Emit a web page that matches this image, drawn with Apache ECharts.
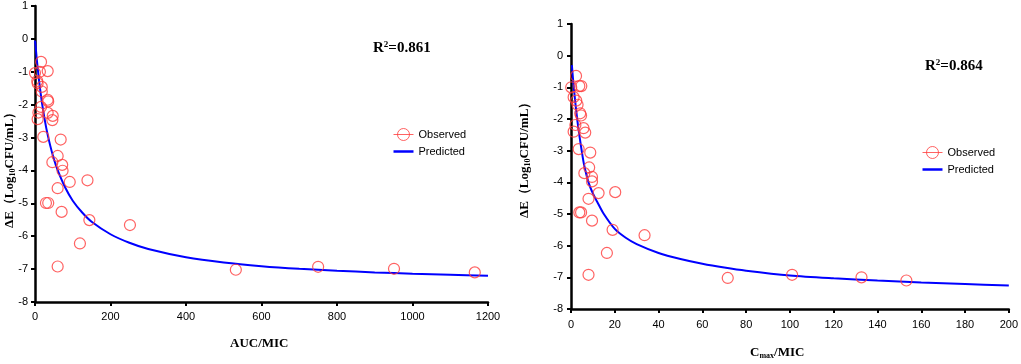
<!DOCTYPE html>
<html>
<head>
<meta charset="utf-8">
<script src="https://cdn.jsdelivr.net/npm/echarts@6/dist/echarts.min.js"></script>
<style>
  html, body { margin: 0; padding: 0; background: #fff; }
  #main { width: 1021px; height: 364px; }
</style>
</head>
<body>
<div id="main"></div>
<script>
// observed points, AUC/MIC panel
const aucMic = [16, 13, 33.6, 0, 6, 7, 18, 18, 33.6, 35, 16, 9, 33.6, 47, 46, 7, 22, 68, 60, 46, 72, 73, 92, 139, 60, 29, 35, 70.5, 144, 251.5, 119, 60, 532, 750, 951, 1165]
const aucDeltaE = [-0.7, -1.0, -0.98, -1.04, -1.28, -1.35, -1.46, -1.6, -1.85, -1.9, -2.07, -2.24, -2.25, -2.34, -2.47, -2.44, -2.98, -3.06, -3.56, -3.75, -3.83, -4.01, -4.35, -4.3, -4.54, -4.99, -4.99, -5.26, -5.51, -5.66, -6.22, -6.92, -7.02, -6.93, -6.99, -7.1]
// predicted curve, AUC/MIC panel
const aucCurveX = [0, 2, 5, 10, 15, 20, 30, 40, 50, 60, 80, 100, 125, 150, 200, 250, 300, 400, 500, 600, 700, 800, 900, 1000, 1100, 1200]
const aucCurveY = [-0.05, -0.27, -0.65, -1.19, -1.66, -2.06, -2.72, -3.23, -3.65, -3.99, -4.52, -4.92, -5.28, -5.56, -5.94, -6.2, -6.39, -6.64, -6.8, -6.91, -6.99, -7.05, -7.1, -7.14, -7.17, -7.2]

// observed points, Cmax/MIC panel
const cmaxMic = [2.3, 0.1, 3.8, 4.7, 1.2, 2.4, 3, 4.6, 4.2, 2, 1.2, 5.7, 6.5, 3.5, 8.8, 8.3, 6.1, 9.6, 9.6, 12.6, 20.2, 8, 3.8, 4.6, 9.6, 19, 33.6, 16.4, 8, 71.6, 101, 132.7, 153.2]
const cmaxDeltaE = [-0.64, -1.0, -0.96, -0.96, -1.31, -1.42, -1.55, -1.89, -1.82, -2.19, -2.4, -2.29, -2.43, -2.95, -3.06, -3.53, -3.71, -3.83, -3.97, -4.34, -4.31, -4.52, -4.95, -4.95, -5.21, -5.5, -5.67, -6.23, -6.92, -7.02, -6.92, -7.0, -7.1]
// predicted curve, Cmax/MIC panel
const cmaxCurveX = [0.4, 1, 2, 3, 4, 5, 6, 8, 10, 12, 15, 20, 25, 30, 40, 50, 60, 70, 80, 100, 120, 140, 160, 180, 200]
const cmaxCurveY = [-0.3, -0.8, -1.5, -2.1, -2.6, -3.05, -3.45, -4.0, -4.35, -4.62, -5.0, -5.47, -5.75, -5.95, -6.23, -6.42, -6.57, -6.69, -6.79, -6.94, -7.03, -7.1, -7.16, -7.21, -7.26]

const yTicks = { min: -8, max: 1, interval: 1 }
const r2Left = '0.861'
const r2Right = '0.864'

const pairs = (xs, ys) => xs.map((x, i) => [x, ys[i]])

const RED = '#ff3b3b'
const BLUE = '#0000ff'
const sans = 'Liberation Sans, Arial, sans-serif'
const serif = 'Liberation Serif, Times New Roman, serif'

function xAxis (gridIndex, max, interval, margin) {
  return {
    type: 'value', gridIndex, min: 0, max, interval,
    axisLine: { onZero: false, lineStyle: { color: '#000', width: 2.5 } },
    axisTick: { length: 4, lineStyle: { color: '#000', width: 2 } },
    axisLabel: { color: '#000', fontSize: 11, fontFamily: sans, margin, formatter: v => String(v) },
    splitLine: { show: false }
  }
}
function yAxis (gridIndex, margin) {
  return {
    type: 'value', gridIndex, min: yTicks.min, max: yTicks.max, interval: yTicks.interval,
    axisLine: { show: true, onZero: false, lineStyle: { color: '#000', width: 2.5 } },
    axisTick: { show: true, length: 4, lineStyle: { color: '#000', width: 2 } },
    axisLabel: { color: '#000', fontSize: 11, fontFamily: sans, margin },
    splitLine: { show: false }
  }
}

const observedIcon = 'path://M0,10 L20,10 M16,10 A6,6 0 1 1 4,10 A6,6 0 1 1 16,10'
const predictedIcon = 'path://M0,0 L20,0 L20,2.5 L0,2.5 Z'

function legend (left, top) {
  return {
    left, top, orient: 'vertical', itemGap: 5, itemWidth: 20, itemHeight: 12,
    textStyle: { fontSize: 11, fontFamily: sans, color: '#000' },
    data: [
      { name: 'Observed', icon: observedIcon, itemStyle: { color: 'transparent', borderColor: RED, borderWidth: 1 } },
      { name: 'Predicted', icon: predictedIcon, itemStyle: { color: BLUE, borderWidth: 0 } }
    ]
  }
}

const titleRich = {
  b: { fontFamily: serif, fontWeight: 'bold', fontSize: 13, color: '#000' },
  s: { fontFamily: serif, fontWeight: 'bold', fontSize: 8, color: '#000', verticalAlign: 'bottom', padding: [6, 0, 0, 0] }
}
const r2Rich = {
  b: { fontFamily: serif, fontWeight: 'bold', fontSize: 15, color: '#000' },
  p: { fontFamily: serif, fontWeight: 'bold', fontSize: 9, color: '#000', verticalAlign: 'top', padding: [0, 0, 7, 0] }
}

const observedStyle = { color: 'transparent', borderColor: RED, borderWidth: 1.2 }

const chart = echarts.init(document.getElementById('main'))
chart.setOption({
  animation: false,
  backgroundColor: '#fff',
  grid: [
    { left: 35, top: 6, width: 453, height: 296 },
    { left: 571, top: 24, width: 438, height: 285 }
  ],
  xAxis: [xAxis(0, 1200, 200, 9), xAxis(1, 200, 20, 10)],
  yAxis: [yAxis(0, 7), yAxis(1, 8)],
  legend: [legend(388, 123), legend(917, 141)],
  graphic: [
    { type: 'text', left: 230, top: 337, style: { text: '{b|AUC/MIC}', rich: titleRich } },
    { type: 'text', left: 750, top: 346, style: { text: '{b|C}{s|max}{b|/MIC}', rich: titleRich } },
    { type: 'text', x: 3, y: 228, rotation: Math.PI / 2, style: { text: '{b|ΔE（Log}{s|10}{b|CFU/mL）}', rich: titleRich } },
    { type: 'text', x: 518, y: 218, rotation: Math.PI / 2, style: { text: '{b|ΔE（Log}{s|10}{b|CFU/mL）}', rich: titleRich } },
    { type: 'text', left: 373, top: 40, style: { text: '{b|R}{p|2}{b|=' + r2Left + '}', rich: r2Rich } },
    { type: 'text', left: 925, top: 58, style: { text: '{b|R}{p|2}{b|=' + r2Right + '}', rich: r2Rich } }
  ],
  series: [
    {
      name: 'Observed', type: 'scatter', xAxisIndex: 0, yAxisIndex: 0,
      symbol: 'circle', symbolSize: 11, itemStyle: observedStyle,
      data: pairs(aucMic, aucDeltaE), z: 3
    },
    {
      name: 'Predicted', type: 'line', xAxisIndex: 0, yAxisIndex: 0,
      symbol: 'none', smooth: 0.3, color: BLUE,
      lineStyle: { color: BLUE, width: 2 },
      data: pairs(aucCurveX, aucCurveY)
    },
    {
      name: 'Observed', type: 'scatter', xAxisIndex: 1, yAxisIndex: 1,
      symbol: 'circle', symbolSize: 11, itemStyle: observedStyle,
      data: pairs(cmaxMic, cmaxDeltaE), z: 3
    },
    {
      name: 'Predicted', type: 'line', xAxisIndex: 1, yAxisIndex: 1,
      symbol: 'none', smooth: 0.3, color: BLUE,
      lineStyle: { color: BLUE, width: 2 },
      data: pairs(cmaxCurveX, cmaxCurveY)
    }
  ]
})
</script>
</body>
</html>
